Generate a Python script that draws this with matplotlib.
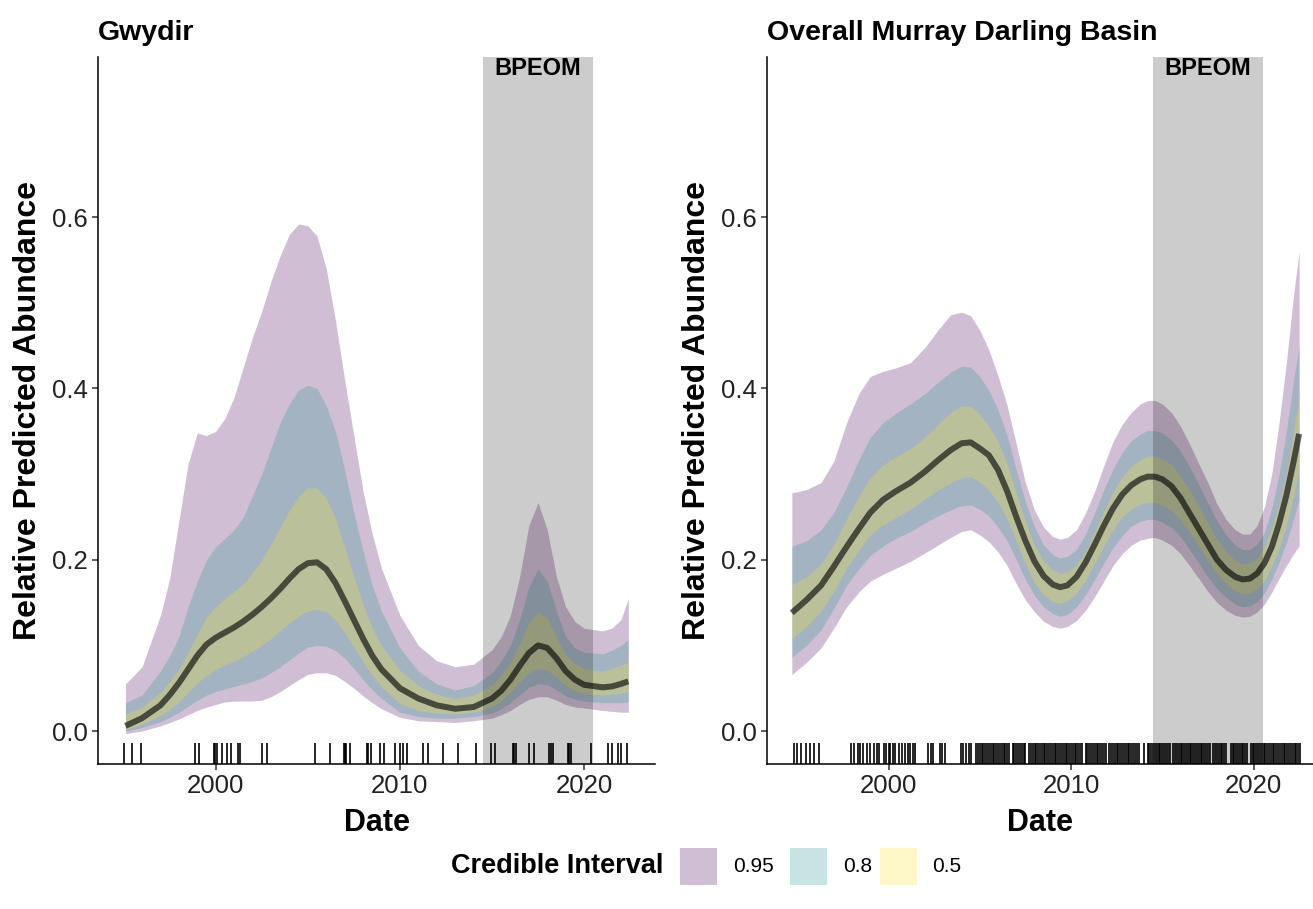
import matplotlib
matplotlib.use("Agg")
import matplotlib.pyplot as plt
import matplotlib.transforms as mtransforms
from matplotlib.patches import Rectangle

plt.rcParams['font.family'] = ['Liberation Sans', 'DejaVu Sans']

# ---- Gwydir: posterior median and credible bands ----
gw_year = [1995.1, 1996.0, 1997.0, 1997.5, 1998.0, 1998.5, 1999.0, 1999.5, 2000.0, 2000.5,
           2001.0, 2001.5, 2002.0, 2002.5, 2003.0, 2003.5, 2004.0, 2004.5, 2005.0, 2005.5,
           2006.0, 2006.5, 2007.0, 2007.5, 2008.0, 2008.5, 2009.0, 2010.0, 2011.0, 2012.0,
           2013.0, 2014.0, 2015.0, 2015.5, 2016.0, 2016.5, 2017.0, 2017.5, 2018.0, 2018.5,
           2019.0, 2019.5, 2020.0, 2021.0, 2021.5, 2022.0, 2022.4]
gw_med = [0.006, 0.015, 0.030, 0.042, 0.056, 0.072, 0.088, 0.101, 0.109, 0.115,
          0.121, 0.128, 0.136, 0.145, 0.155, 0.166, 0.178, 0.189, 0.196, 0.197,
          0.189, 0.173, 0.152, 0.130, 0.108, 0.088, 0.072, 0.050, 0.038, 0.030,
          0.026, 0.028, 0.038, 0.047, 0.060, 0.076, 0.091, 0.100, 0.097, 0.085,
          0.070, 0.060, 0.054, 0.051, 0.052, 0.055, 0.058]
gw_hi95 = [0.055, 0.075, 0.135, 0.178, 0.245, 0.312, 0.348, 0.345, 0.350, 0.365,
           0.390, 0.425, 0.460, 0.490, 0.525, 0.555, 0.580, 0.592, 0.590, 0.578,
           0.540, 0.480, 0.410, 0.345, 0.280, 0.230, 0.190, 0.135, 0.100, 0.082,
           0.075, 0.078, 0.095, 0.110, 0.135, 0.180, 0.240, 0.267, 0.235, 0.180,
           0.145, 0.128, 0.120, 0.117, 0.120, 0.130, 0.155]
gw_hi80 = [0.033, 0.042, 0.070, 0.088, 0.110, 0.145, 0.175, 0.200, 0.215, 0.225,
           0.235, 0.250, 0.275, 0.300, 0.330, 0.360, 0.382, 0.398, 0.404, 0.400,
           0.380, 0.350, 0.305, 0.255, 0.210, 0.170, 0.140, 0.097, 0.070, 0.055,
           0.048, 0.053, 0.068, 0.082, 0.100, 0.130, 0.168, 0.189, 0.175, 0.140,
           0.110, 0.097, 0.092, 0.090, 0.094, 0.100, 0.107]
gw_hi50 = [0.020, 0.028, 0.045, 0.058, 0.072, 0.092, 0.113, 0.133, 0.145, 0.155,
           0.163, 0.172, 0.185, 0.200, 0.218, 0.238, 0.258, 0.274, 0.284, 0.284,
           0.272, 0.248, 0.215, 0.180, 0.148, 0.120, 0.100, 0.071, 0.053, 0.043,
           0.038, 0.042, 0.054, 0.065, 0.080, 0.102, 0.126, 0.139, 0.132, 0.110,
           0.090, 0.079, 0.073, 0.070, 0.073, 0.077, 0.080]
gw_lo50 = [0.002, 0.008, 0.018, 0.025, 0.034, 0.045, 0.056, 0.065, 0.072, 0.077,
           0.082, 0.087, 0.093, 0.100, 0.108, 0.117, 0.126, 0.134, 0.140, 0.142,
           0.139, 0.130, 0.115, 0.098, 0.081, 0.065, 0.052, 0.032, 0.024, 0.021,
           0.020, 0.022, 0.028, 0.035, 0.045, 0.057, 0.068, 0.073, 0.071, 0.063,
           0.053, 0.047, 0.044, 0.042, 0.043, 0.044, 0.046]
gw_lo80 = [0.000, 0.004, 0.011, 0.016, 0.022, 0.029, 0.036, 0.042, 0.046, 0.049,
           0.052, 0.055, 0.058, 0.062, 0.068, 0.075, 0.083, 0.091, 0.098, 0.100,
           0.099, 0.094, 0.085, 0.073, 0.060, 0.048, 0.038, 0.022, 0.017, 0.015,
           0.015, 0.017, 0.021, 0.026, 0.033, 0.042, 0.051, 0.055, 0.054, 0.048,
           0.041, 0.037, 0.035, 0.033, 0.033, 0.033, 0.034]
gw_lo95 = [-0.003, 0.000, 0.006, 0.010, 0.014, 0.019, 0.024, 0.028, 0.031, 0.034,
           0.035, 0.035, 0.035, 0.036, 0.040, 0.046, 0.053, 0.060, 0.066, 0.068,
           0.068, 0.065, 0.058, 0.050, 0.041, 0.033, 0.026, 0.016, 0.012, 0.011,
           0.010, 0.012, 0.015, 0.019, 0.024, 0.031, 0.037, 0.040, 0.040, 0.036,
           0.031, 0.028, 0.027, 0.024, 0.023, 0.022, 0.022]
gw_obs = [1995.0, 1995.45, 1995.93, 1998.88, 1999.12, 1999.9, 1999.97, 2000.05, 2000.35, 2000.6,
          2000.83, 2001.2, 2001.33, 2002.5, 2002.77, 2005.4, 2006.2, 2006.97, 2007.03, 2007.1,
          2007.27, 2008.2, 2008.27, 2008.45, 2008.92, 2009.12, 2009.72, 2009.98, 2010.18, 2010.38,
          2011.28, 2011.5, 2012.35, 2013.17, 2014.15, 2014.97, 2015.15, 2016.12, 2016.2, 2016.3,
          2017.03, 2017.3, 2018.1, 2018.18, 2018.3, 2019.1, 2019.18, 2019.3, 2020.4, 2021.3,
          2021.5, 2021.85, 2022.03, 2022.33]

# ---- Overall Murray Darling Basin ----
mdb_year = [1994.7, 1995.5, 1996.3, 1997.0, 1997.7, 1998.4, 1999.0, 1999.7, 2000.4, 2001.2,
            2002.0, 2002.7, 2003.4, 2004.0, 2004.5, 2005.0, 2005.5, 2006.0, 2006.5, 2007.0,
            2007.5, 2008.0, 2008.5, 2009.0, 2009.4, 2009.8, 2010.3, 2010.8, 2011.3, 2011.8,
            2012.3, 2012.8, 2013.3, 2013.8, 2014.2, 2014.6, 2015.0, 2015.5, 2016.0, 2016.5,
            2017.0, 2017.5, 2018.0, 2018.5, 2019.0, 2019.4, 2019.8, 2020.2, 2020.6, 2021.0,
            2021.4, 2021.8, 2022.2, 2022.5]
mdb_med = [0.138, 0.153, 0.170, 0.192, 0.215, 0.237, 0.255, 0.270, 0.280, 0.290,
           0.303, 0.316, 0.328, 0.336, 0.337, 0.330, 0.322, 0.305, 0.280, 0.250,
           0.222, 0.198, 0.181, 0.171, 0.168, 0.170, 0.180, 0.197, 0.218, 0.240,
           0.260, 0.276, 0.287, 0.294, 0.297, 0.297, 0.294, 0.286, 0.272, 0.254,
           0.236, 0.218, 0.200, 0.188, 0.180, 0.177, 0.178, 0.184, 0.196, 0.215,
           0.242, 0.275, 0.315, 0.347]
mdb_hi95 = [0.278, 0.282, 0.290, 0.315, 0.360, 0.395, 0.414, 0.420, 0.424, 0.430,
            0.448, 0.468, 0.486, 0.489, 0.485, 0.468, 0.445, 0.415, 0.380, 0.335,
            0.290, 0.258, 0.238, 0.227, 0.224, 0.226, 0.235, 0.255, 0.280, 0.310,
            0.338, 0.358, 0.372, 0.382, 0.386, 0.386, 0.382, 0.372, 0.356, 0.335,
            0.312, 0.290, 0.265, 0.247, 0.235, 0.230, 0.230, 0.240, 0.262, 0.300,
            0.360, 0.430, 0.510, 0.560]
mdb_hi80 = [0.216, 0.222, 0.235, 0.255, 0.285, 0.318, 0.343, 0.360, 0.371, 0.382,
            0.394, 0.407, 0.419, 0.426, 0.425, 0.414, 0.398, 0.375, 0.345, 0.305,
            0.268, 0.238, 0.217, 0.206, 0.202, 0.204, 0.212, 0.230, 0.255, 0.282,
            0.306, 0.325, 0.339, 0.347, 0.351, 0.351, 0.348, 0.340, 0.327, 0.308,
            0.288, 0.266, 0.245, 0.229, 0.217, 0.212, 0.212, 0.218, 0.232, 0.260,
            0.300, 0.350, 0.410, 0.450]
mdb_hi50 = [0.171, 0.180, 0.195, 0.218, 0.248, 0.275, 0.296, 0.311, 0.320, 0.330,
            0.343, 0.358, 0.372, 0.380, 0.379, 0.370, 0.356, 0.338, 0.312, 0.278,
            0.245, 0.217, 0.198, 0.188, 0.184, 0.186, 0.194, 0.210, 0.233, 0.257,
            0.279, 0.297, 0.309, 0.317, 0.321, 0.321, 0.318, 0.311, 0.298, 0.281,
            0.263, 0.243, 0.224, 0.209, 0.199, 0.195, 0.196, 0.202, 0.215, 0.237,
            0.265, 0.300, 0.350, 0.390]
mdb_lo50 = [0.108, 0.122, 0.140, 0.163, 0.190, 0.212, 0.229, 0.241, 0.249, 0.259,
            0.271, 0.281, 0.290, 0.296, 0.297, 0.291, 0.281, 0.267, 0.248, 0.222,
            0.195, 0.173, 0.159, 0.151, 0.149, 0.152, 0.161, 0.176, 0.196, 0.216,
            0.235, 0.250, 0.259, 0.265, 0.267, 0.267, 0.264, 0.258, 0.247, 0.232,
            0.216, 0.199, 0.184, 0.172, 0.164, 0.160, 0.161, 0.166, 0.176, 0.193,
            0.213, 0.240, 0.275, 0.305]
mdb_lo80 = [0.086, 0.100, 0.118, 0.143, 0.170, 0.190, 0.205, 0.216, 0.225, 0.233,
            0.243, 0.251, 0.258, 0.263, 0.264, 0.259, 0.251, 0.238, 0.222, 0.200,
            0.177, 0.158, 0.145, 0.137, 0.134, 0.136, 0.145, 0.159, 0.177, 0.196,
            0.214, 0.228, 0.239, 0.245, 0.247, 0.247, 0.244, 0.238, 0.227, 0.212,
            0.196, 0.180, 0.166, 0.156, 0.148, 0.145, 0.146, 0.151, 0.161, 0.177,
            0.197, 0.220, 0.248, 0.270]
mdb_lo95 = [0.066, 0.080, 0.097, 0.120, 0.145, 0.163, 0.175, 0.183, 0.190, 0.198,
            0.208, 0.217, 0.226, 0.233, 0.235, 0.229, 0.221, 0.209, 0.193, 0.172,
            0.153, 0.139, 0.128, 0.122, 0.120, 0.122, 0.129, 0.141, 0.157, 0.175,
            0.193, 0.207, 0.217, 0.223, 0.225, 0.226, 0.223, 0.217, 0.207, 0.193,
            0.178, 0.163, 0.150, 0.141, 0.135, 0.133, 0.134, 0.139, 0.148, 0.162,
            0.178, 0.193, 0.207, 0.216]
mdb_obs = [1994.8, 1995.0, 1995.23, 1995.46, 1995.7, 1995.94, 1996.17,
           1997.95, 1998.1, 1998.3, 1998.45, 1998.6, 1998.8, 1999.0, 1999.2, 1999.35, 1999.5,
           1999.75, 1999.87, 2000.0, 2000.1, 2000.25, 2000.35, 2000.6, 2000.75, 2000.9,
           2001.05, 2001.2, 2001.35, 2001.45, 2002.15, 2002.3, 2002.45, 2002.8, 2002.95, 2003.1,
           2003.95, 2004.1, 2004.25, 2004.4, 2004.5,
           2004.8, 2004.9, 2005.0, 2005.1, 2005.2, 2005.3, 2005.4, 2005.5, 2005.6, 2005.7, 2005.8, 2005.9,
           2006.0, 2006.1, 2006.2, 2006.3, 2006.4, 2006.5, 2006.6, 2006.8, 2006.9,
           2007.0, 2007.1, 2007.2, 2007.3, 2007.4, 2007.5, 2007.7, 2007.8, 2007.9,
           2008.0, 2008.1, 2008.2, 2008.3, 2008.4, 2008.5, 2008.6, 2008.7, 2008.8, 2008.9,
           2009.0, 2009.1, 2009.2, 2009.3, 2009.4, 2009.5, 2009.6, 2009.7, 2009.8, 2009.9,
           2010.0, 2010.1, 2010.2, 2010.3, 2010.4, 2010.5, 2010.6, 2010.8, 2010.9,
           2011.0, 2011.1, 2011.2, 2011.3, 2011.4, 2011.5, 2011.6, 2011.7, 2011.8, 2011.9,
           2012.1, 2012.2, 2012.3, 2012.4, 2012.5, 2012.6, 2012.7, 2012.8, 2012.9,
           2013.0, 2013.1, 2013.2, 2013.3, 2013.4, 2013.5, 2013.6, 2013.7, 2014.0,
           2014.2, 2014.3, 2014.4, 2014.5, 2014.6, 2014.7, 2014.8, 2014.9,
           2015.0, 2015.1, 2015.2, 2015.3, 2015.4, 2015.6, 2015.7, 2015.8, 2015.9,
           2016.0, 2016.1, 2016.2, 2016.3, 2016.4, 2016.5, 2016.6, 2016.7, 2016.8, 2016.9,
           2017.0, 2017.1, 2017.2, 2017.3, 2017.4, 2017.5, 2017.6, 2017.8, 2017.9,
           2018.0, 2018.1, 2018.2, 2018.3, 2018.4, 2018.5, 2018.75, 2018.85, 2018.95,
           2019.05, 2019.15, 2019.25, 2019.35, 2019.45, 2019.55, 2019.65, 2019.85, 2019.95,
           2020.05, 2020.15, 2020.25, 2020.35, 2020.45, 2020.55, 2020.65, 2020.75, 2020.85, 2020.95,
           2021.05, 2021.15, 2021.25, 2021.35, 2021.45, 2021.55, 2021.65, 2021.75, 2021.85, 2021.95,
           2022.05, 2022.15, 2022.25, 2022.35, 2022.45, 2022.55]

bpeom = (2014.5, 2020.5)
ci_levels = ['0.95', '0.8', '0.5']
ci_colors = ['#440154', '#21908C', '#FDE725']
band_alpha = 0.25

panels = [
    dict(title='Gwydir', x=gw_year, med=gw_med, obs=gw_obs,
         bands=[(gw_lo95, gw_hi95), (gw_lo80, gw_hi80), (gw_lo50, gw_hi50)],
         rect=[98, 57, 557, 707], xlim=(1993.61, 2023.85), ylab_x=28),
    dict(title='Overall Murray Darling Basin', x=mdb_year, med=mdb_med, obs=mdb_obs,
         bands=[(mdb_lo95, mdb_hi95), (mdb_lo80, mdb_hi80), (mdb_lo50, mdb_hi50)],
         rect=[767, 57, 546, 707], xlim=(1993.34, 2023.26), ylab_x=697),
]

W, H = 1313, 909
fig = plt.figure(figsize=(W / 100, H / 100), dpi=100)

for p in panels:
    x0, top, w, h = p['rect']
    ax = fig.add_axes([x0 / W, (H - top - h) / H, w / W, h / H])

    for (lo, hi), col in zip(p['bands'], ci_colors):
        ax.fill_between(p['x'], lo, hi, color=col, alpha=band_alpha, lw=0, zorder=1)

    ax.axvspan(bpeom[0], bpeom[1], color='black', alpha=0.2, lw=0, zorder=2)
    ax.plot(p['x'], p['med'], color='black', alpha=0.62, lw=4.3,
            solid_capstyle='butt', zorder=3)

    # observation rug along the bottom
    trans = mtransforms.blended_transform_factory(ax.transData, ax.transAxes)
    ax.vlines(p['obs'], 0, 0.03, transform=trans, color='black', lw=1.2, zorder=4)

    ax.text((bpeom[0] + bpeom[1]) / 2, 0.9745, 'BPEOM', transform=trans,
            ha='center', va='baseline', fontsize=17, fontweight='bold', zorder=5)

    ax.set_xlim(*p['xlim'])
    ax.set_ylim(-0.0385, 0.787)
    ax.set_xticks([2000, 2010, 2020])
    ax.set_yticks([0.0, 0.2, 0.4, 0.6])
    ax.set_yticklabels(['0.0', '0.2', '0.4', '0.6'])

    for side in ('top', 'right'):
        ax.spines[side].set_visible(False)
    for side in ('left', 'bottom'):
        ax.spines[side].set_linewidth(1.1)
    ax.tick_params(length=4.5, width=1.1, pad=3, labelsize=18.5,
                   labelcolor='#222222', color='#333333')

    # axis titles
    fig.text((x0 + w / 2) / W, (H - 831) / H, 'Date', fontsize=22,
             fontweight='bold', ha='center', va='baseline')
    fig.text(p['ylab_x'] / W, (H - top - h / 2) / H, 'Relative Predicted Abundance',
             fontsize=23, fontweight='bold', rotation=90, ha='center', va='center')

    fig.text(x0 / W, (H - 40) / H, p['title'], fontsize=20.5, fontweight='bold',
             ha='left', va='baseline')

# legend along the bottom
ly = (H - 866) / H
fig.text(663 / W, ly, 'Credible Interval', fontsize=19.5, fontweight='bold',
         ha='right', va='center')
key_x = [680, 790, 880]
lab_x = [733, 843, 932]
for kx, lx, col, lab in zip(key_x, lab_x, ci_colors, ci_levels):
    fig.add_artist(Rectangle((kx / W, (H - 885) / H), 37 / W, 37 / H,
                             transform=fig.transFigure, facecolor=col,
                             alpha=band_alpha, lw=0))
    fig.text(lx / W, ly, lab, fontsize=15, ha='left', va='center')

fig.savefig('out.png', dpi=100)
